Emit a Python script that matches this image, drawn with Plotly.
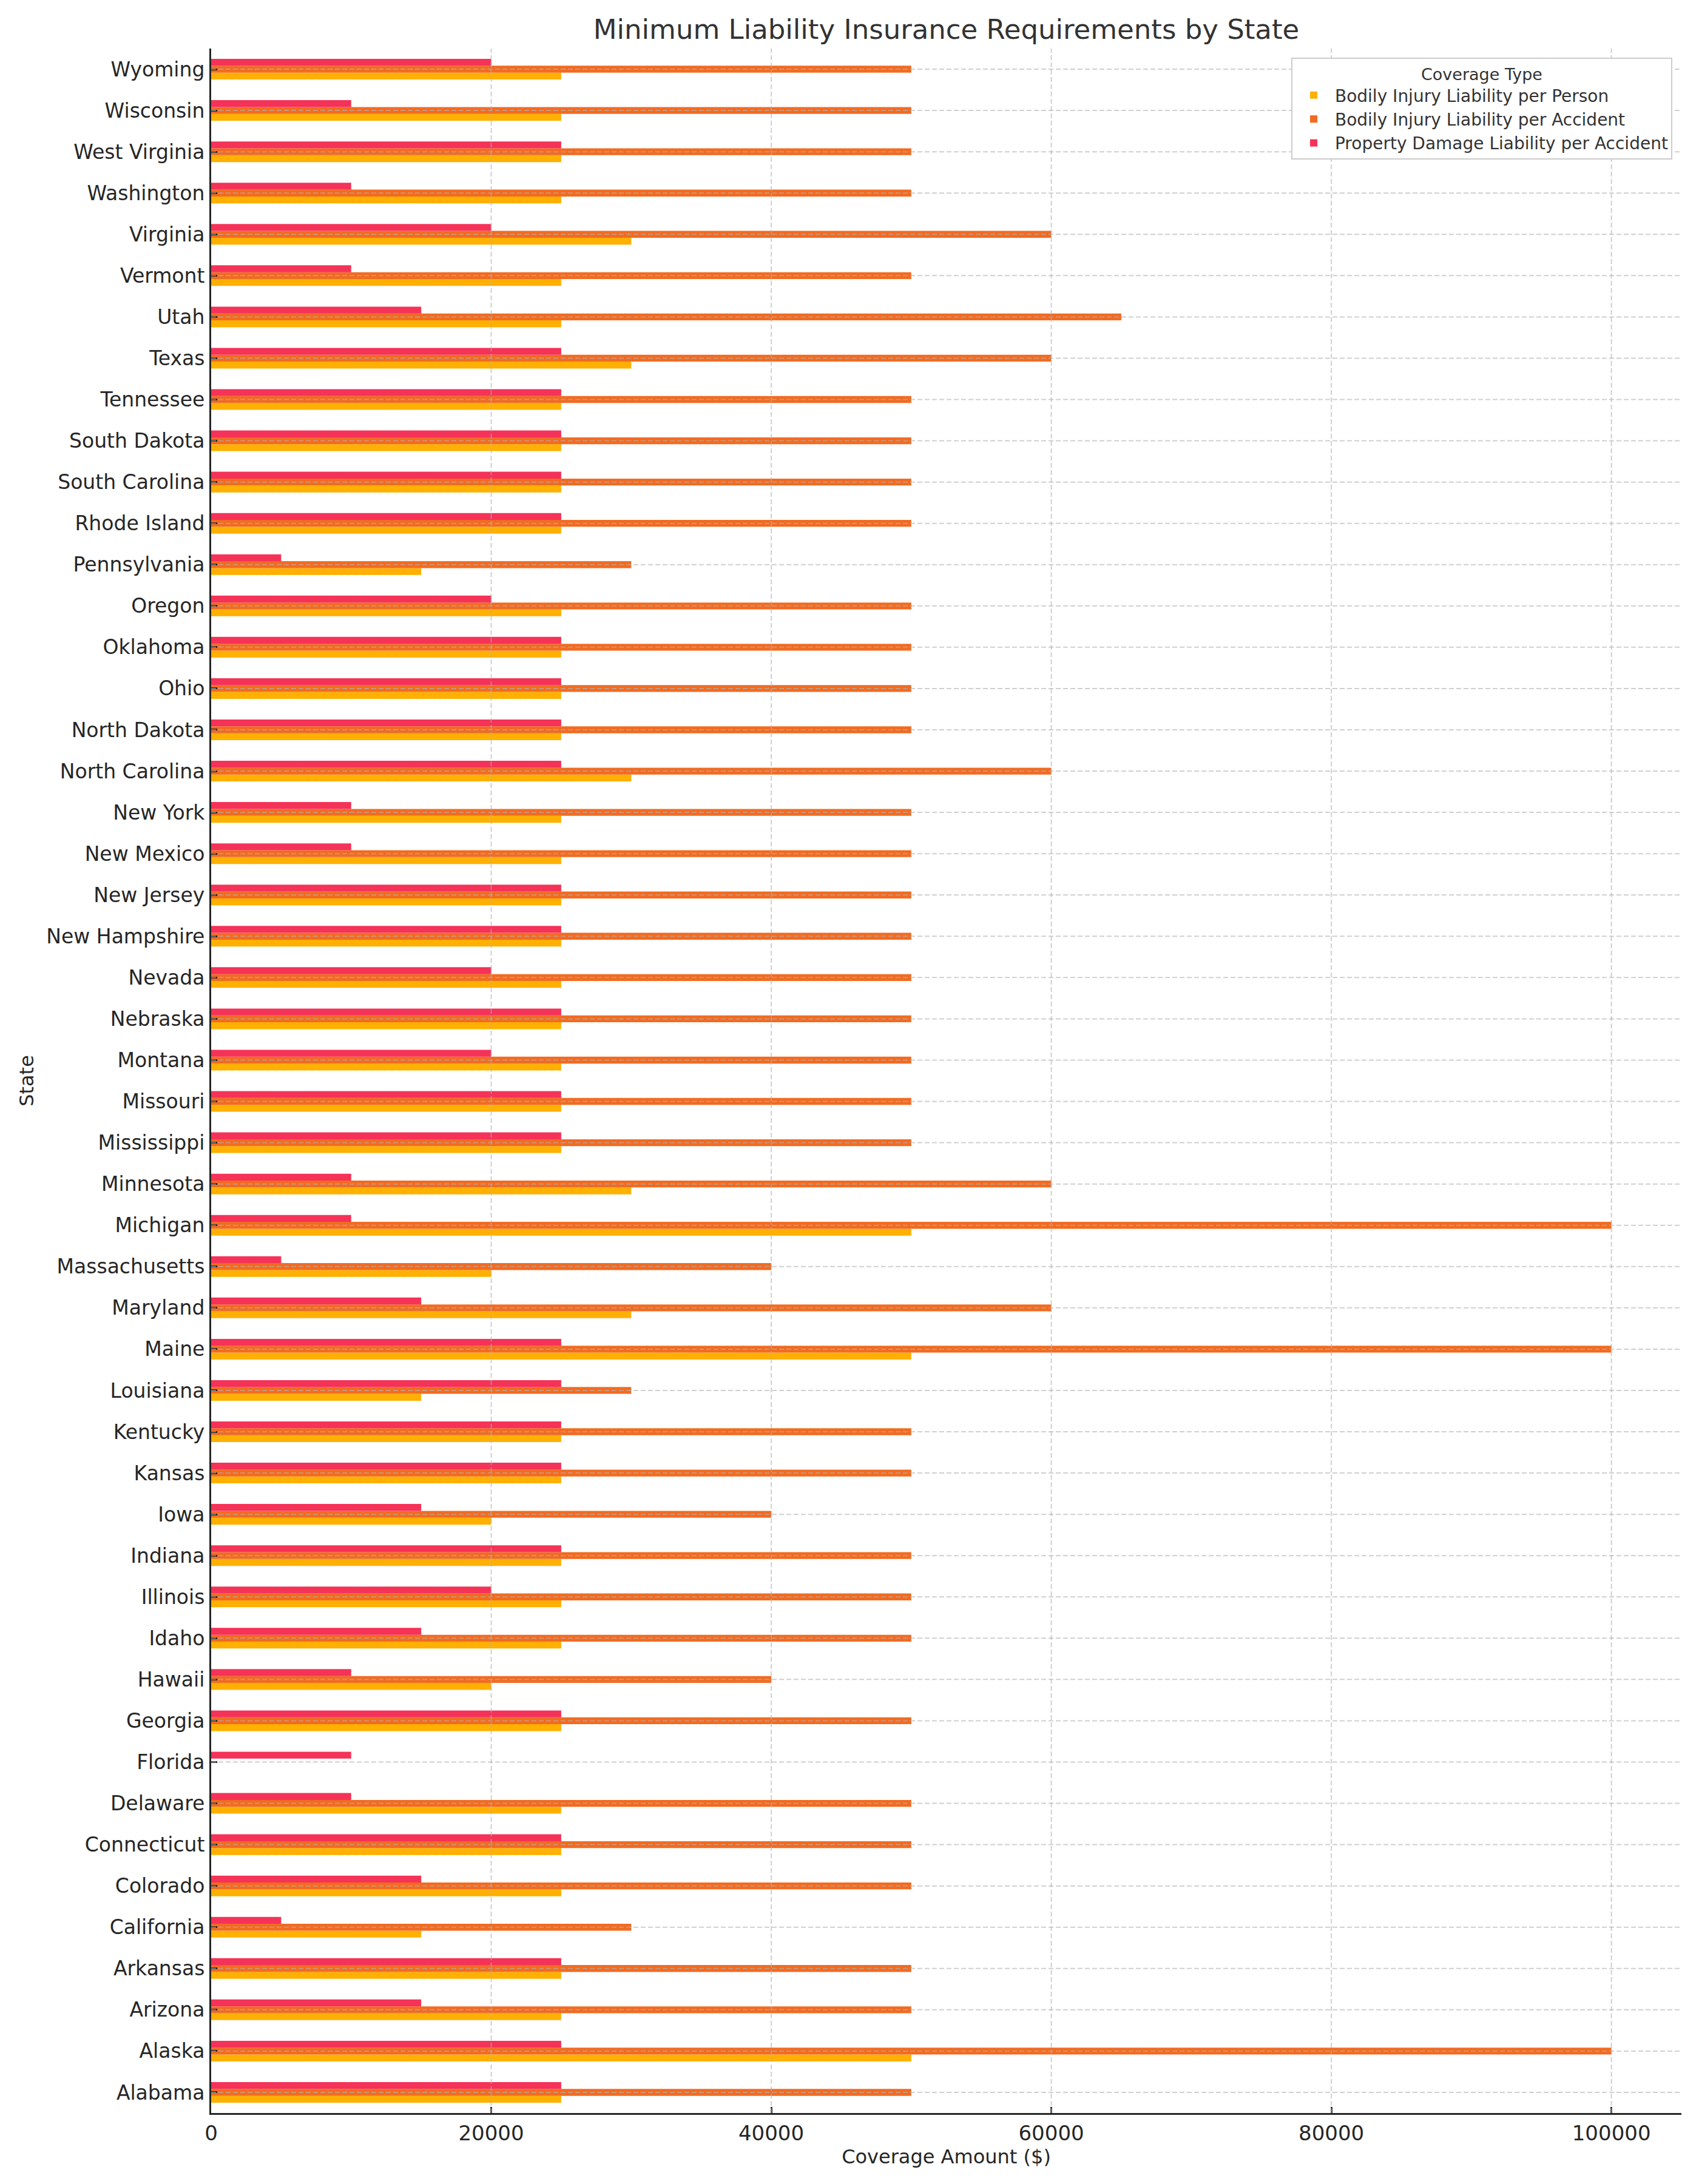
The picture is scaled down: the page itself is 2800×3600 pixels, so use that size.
import plotly.graph_objects as go

# data (US minimum liability limits, $)
states = [
    "Alabama", "Alaska", "Arizona", "Arkansas", "California", "Colorado",
    "Connecticut", "Delaware", "Florida", "Georgia", "Hawaii", "Idaho",
    "Illinois", "Indiana", "Iowa", "Kansas", "Kentucky", "Louisiana", "Maine",
    "Maryland", "Massachusetts", "Michigan", "Minnesota", "Mississippi",
    "Missouri", "Montana", "Nebraska", "Nevada", "New Hampshire", "New Jersey",
    "New Mexico", "New York", "North Carolina", "North Dakota", "Ohio",
    "Oklahoma", "Oregon", "Pennsylvania", "Rhode Island", "South Carolina",
    "South Dakota", "Tennessee", "Texas", "Utah", "Vermont", "Virginia",
    "Washington", "West Virginia", "Wisconsin", "Wyoming",
]

bi_person = [
    25000, 50000, 25000, 25000, 15000, 25000,
    25000, 25000, 0, 25000, 20000, 25000,
    25000, 25000, 20000, 25000, 25000, 15000, 50000,
    30000, 20000, 50000, 30000, 25000,
    25000, 25000, 25000, 25000, 25000, 25000,
    25000, 25000, 30000, 25000, 25000,
    25000, 25000, 15000, 25000, 25000,
    25000, 25000, 30000, 25000, 25000, 30000,
    25000, 25000, 25000, 25000,
]

bi_accident = [
    50000, 100000, 50000, 50000, 30000, 50000,
    50000, 50000, 0, 50000, 40000, 50000,
    50000, 50000, 40000, 50000, 50000, 30000, 100000,
    60000, 40000, 100000, 60000, 50000,
    50000, 50000, 50000, 50000, 50000, 50000,
    50000, 50000, 60000, 50000, 50000,
    50000, 50000, 30000, 50000, 50000,
    50000, 50000, 60000, 65000, 50000, 60000,
    50000, 50000, 50000, 50000,
]

pd_accident = [
    25000, 25000, 15000, 25000, 5000, 15000,
    25000, 10000, 10000, 25000, 10000, 15000,
    20000, 25000, 15000, 25000, 25000, 25000, 25000,
    15000, 5000, 10000, 10000, 25000,
    25000, 20000, 25000, 20000, 25000, 25000,
    10000, 10000, 25000, 25000, 25000,
    25000, 20000, 5000, 25000, 25000,
    25000, 25000, 25000, 15000, 10000, 20000,
    10000, 25000, 10000, 20000,
]

series_names = [
    "Bodily Injury Liability per Person",
    "Bodily Injury Liability per Accident",
    "Property Damage Liability per Accident",
]
series_colors = ["#FFB000", "#F26B21", "#F53258"]
x_ticks = [0, 20000, 40000, 60000, 80000, 100000]

FONT = "DejaVu Sans"
INK = "#262626"
GRID = "rgba(176,176,176,0.6)"

fig = go.Figure()
for name, vals, col in zip(series_names, [bi_person, bi_accident, pd_accident], series_colors):
    fig.add_trace(
        go.Bar(
            y=states,
            x=vals,
            name=name,
            orientation="h",
            marker_color=col,
            marker_line_width=0,
        )
    )

# matplotlib draws its dashed grid on top of the bars
for s in states:
    fig.add_shape(
        type="line", xref="x domain", x0=0, x1=1, y0=s, y1=s, layer="above",
        line=dict(color=GRID, width=2, dash="8px,4px"),
    )
for t in x_ticks[1:]:
    fig.add_shape(
        type="line", yref="y domain", y0=0, y1=1, x0=t, x1=t, layer="above",
        line=dict(color=GRID, width=2, dash="8px,4px"),
    )

# the page body adds an 8px offset, so margins are trimmed by that much
fig.update_layout(
    width=2800,
    height=3600,
    margin=dict(l=340, r=37, t=72, b=125),
    paper_bgcolor="white",
    plot_bgcolor="white",
    barmode="group",
    bargap=0.5,
    bargroupgap=0,
    font=dict(family=FONT, size=33, color=INK),
    title=dict(
        text="Minimum Liability Insurance Requirements by State",
        x=0.5, xref="paper", xanchor="center",
        y=1 - 40 / 3600, yref="container", yanchor="middle",
        font=dict(family=FONT, size=45, color="#333333"),
    ),
    legend=dict(
        title=dict(text="Coverage Type", side="top center", font=dict(size=27, color="#333333")),
        font=dict(family=FONT, size=28, color="#333333"),
        x=0.9938, xanchor="right",
        y=0.9956, yanchor="top",
        bgcolor="white",
        bordercolor="#cccccc",
        borderwidth=2,
        itemwidth=60,
        traceorder="normal",
    ),
    showlegend=True,
)

fig.update_xaxes(
    range=[0, 105000],
    tickvals=x_ticks,
    tickformat="d",
    showgrid=False,
    zeroline=False,
    showline=True, linecolor=INK, linewidth=3,
    ticks="inside", ticklen=10, tickwidth=3, tickcolor=INK,
    ticklabelstandoff=1,
    tickfont=dict(family=FONT, size=34, color=INK),
    title=dict(text="Coverage Amount ($)", standoff=0, font=dict(family=FONT, size=32, color=INK)),
    layer="above traces",
)
fig.update_yaxes(
    type="category",
    categoryorder="array",
    categoryarray=states,
    range=[-0.5, len(states) - 0.5],
    showgrid=False,
    zeroline=False,
    showline=True, linecolor=INK, linewidth=3,
    ticks="inside", ticklen=10, tickwidth=3, tickcolor=INK,
    ticklabelstandoff=1,
    tickfont=dict(family=FONT, size=33, color=INK),
    title=dict(text="State", standoff=12, font=dict(family=FONT, size=32, color=INK)),
    layer="above traces",
)

fig.write_html("out.html")
